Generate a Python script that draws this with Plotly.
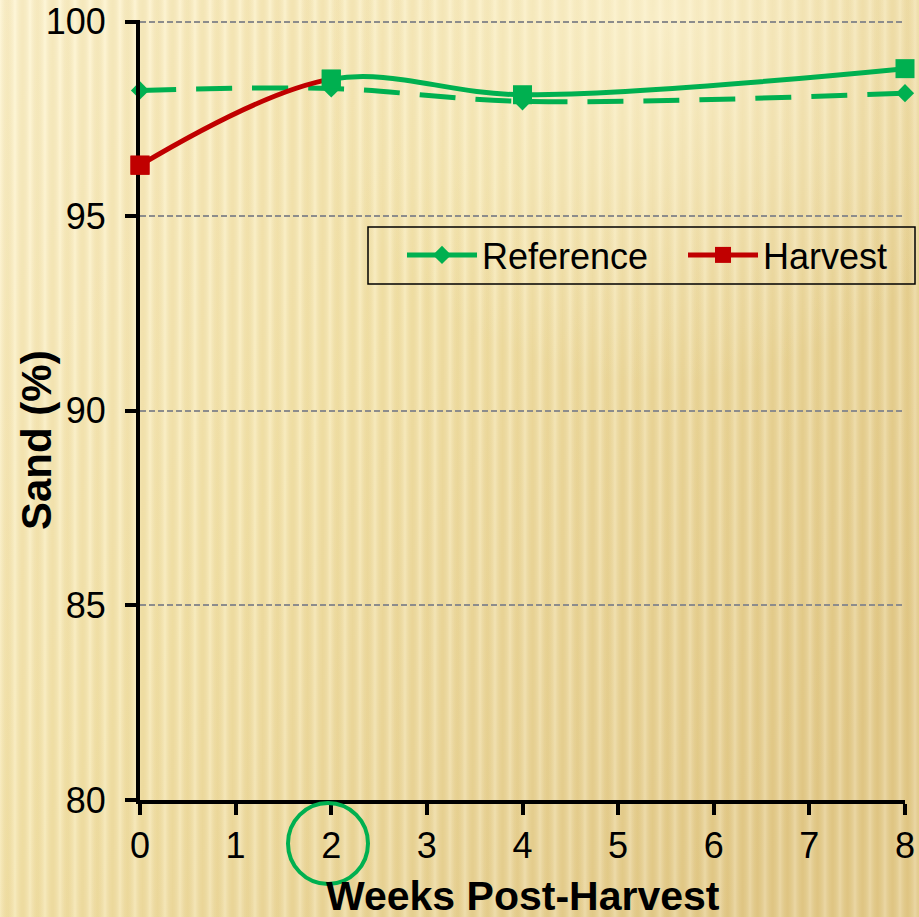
import base64
import plotly.graph_objects as go

# ---- data ----
weeks = [0, 2, 4, 8]
reference = [98.23, 98.28, 97.95, 98.16]
harvest = [96.31, 98.52, 98.12, 98.79]
x_ticks = [0, 1, 2, 3, 4, 5, 6, 7, 8]
y_ticks = [80, 85, 90, 95, 100]
x_range = [0, 8]
y_range = [80, 100.04]
split_week = 2          # Harvest line is red before this week, green after

GREEN = "#00B050"
RED = "#C00000"
FONT = "Liberation Sans, Arial, sans-serif"

W, H = 919, 917
ML, MR, MT, MB = 140, 14, 20, 117
PW, PH = W - ML - MR, H - MT - MB


def px(xp):  # pixel x -> paper x
    return (xp - ML) / PW


def py(yp):  # pixel y -> paper y
    return (H - MB - yp) / PH


# ---- decorative background (svg) ----
svg = f"""<svg xmlns='http://www.w3.org/2000/svg' width='{W}' height='{H}'>
<defs>
<linearGradient id='g' x1='0' y1='0' x2='1' y2='0.7'>
<stop offset='0' stop-color='#FEF4CF'/>
<stop offset='0.45' stop-color='#F5E5AC'/>
<stop offset='1' stop-color='#E4CB8A'/>
</linearGradient>
<linearGradient id='s' x1='0' y1='0' x2='1' y2='0'>
<stop offset='0' stop-color='#FFFFFF' stop-opacity='0.22'/>
<stop offset='0.5' stop-color='#B89440' stop-opacity='0.10'/>
<stop offset='1' stop-color='#FFFFFF' stop-opacity='0.22'/>
</linearGradient>
<pattern id='p' width='15' height='{H}' patternUnits='userSpaceOnUse'>
<rect width='15' height='{H}' fill='url(#s)'/>
</pattern>
<radialGradient id='r' cx='0.72' cy='0.02' r='0.4'>
<stop offset='0' stop-color='#FFF8DE' stop-opacity='0.6'/>
<stop offset='1' stop-color='#FFF8DE' stop-opacity='0'/>
</radialGradient>
</defs>
<rect width='{W}' height='{H}' fill='url(#g)'/>
<rect width='{W}' height='{H}' fill='url(#p)'/>
<rect width='{W}' height='{H}' fill='url(#r)'/>
</svg>"""
bg_uri = "data:image/svg+xml;base64," + base64.b64encode(svg.encode()).decode()

fig = go.Figure()

fig.add_trace(go.Scatter(
    x=weeks, y=reference, name="Reference", mode="lines+markers",
    line=dict(color=GREEN, width=5, dash="36px,20px", shape="spline"),
    marker=dict(symbol="diamond", size=14, color=GREEN),
    cliponaxis=False, showlegend=False,
))
# legend entry for Reference (solid glyph, as in the original legend)
fig.add_trace(go.Scatter(
    x=[None], y=[None], name="Reference", mode="lines+markers",
    line=dict(color=GREEN, width=5),
    marker=dict(symbol="diamond", size=14, color=GREEN),
    legend="legend", hoverinfo="skip",
))
# red part of the Harvest curve (clipped to weeks 0..split)
fig.add_trace(go.Scatter(
    x=weeks, y=harvest, name="Harvest", mode="lines+markers",
    xaxis="x2", yaxis="y2",
    line=dict(color=RED, width=5, shape="spline"),
    marker=dict(symbol="square", size=19, color=[RED] + [GREEN] * (len(weeks) - 1)),
    cliponaxis=False, legend="legend2",
))
# green part of the Harvest curve (clipped to weeks split..8)
fig.add_trace(go.Scatter(
    x=weeks, y=harvest, showlegend=False, mode="lines",
    xaxis="x3", yaxis="y2",
    line=dict(color=GREEN, width=5, shape="spline"),
    hoverinfo="skip",
))
# Harvest markers on top
fig.add_trace(go.Scatter(
    x=weeks, y=harvest, showlegend=False, mode="markers",
    xaxis="x4", yaxis="y2",
    marker=dict(symbol="square", size=19, color=[RED] + [GREEN] * (len(weeks) - 1)),
    cliponaxis=False,
))

frac = (split_week - x_range[0]) / (x_range[1] - x_range[0])
hidden = dict(visible=False, showgrid=False, zeroline=False, fixedrange=True,
              automargin=False)

legend_common = dict(
    orientation="h", xanchor="left", yanchor="middle",
    font=dict(size=36, family=FONT), bgcolor="rgba(0,0,0,0)", borderwidth=0,
    itemwidth=70, itemsizing="trace",
)

fig.update_layout(
    width=W, height=H,
    margin=dict(l=ML, r=MR, t=MT, b=MB, autoexpand=False),
    paper_bgcolor="#F3E2A8",
    plot_bgcolor="rgba(0,0,0,0)",
    font=dict(family=FONT, color="black"),
    xaxis=dict(
        domain=[0, 1], range=x_range, tickvals=x_ticks,
        showline=True, linecolor="black", linewidth=4,
        ticks="outside", ticklen=11, tickwidth=4, tickcolor="black",
        tickfont=dict(size=36, family=FONT), showgrid=False, zeroline=False,
        fixedrange=True, ticklabeloverflow="allow", automargin=False,
    ),
    yaxis=dict(
        domain=[0, 1], range=y_range, tickvals=y_ticks,
        showline=True, linecolor="black", linewidth=4,
        ticks="outside", ticklen=11, tickwidth=4, tickcolor="black",
        tickfont=dict(size=36, family=FONT), ticklabelstandoff=12,
        showgrid=True, gridcolor="#8C8C8C", gridwidth=2, griddash="6px,3px",
        zeroline=False, fixedrange=True, ticklabeloverflow="allow",
        automargin=False,
    ),
    xaxis2=dict(domain=[0, frac], range=[x_range[0], split_week], anchor="y2", **hidden),
    xaxis3=dict(domain=[frac, 1], range=[split_week, x_range[1]], anchor="y2", **hidden),
    xaxis4=dict(domain=[0, 1], range=x_range, anchor="y2", **hidden),
    yaxis2=dict(domain=[0, 1], range=y_range, anchor="x2", **hidden),
    showlegend=True,
    legend=dict(x=px(402), y=py(255), **legend_common),
    legend2=dict(x=px(683), y=py(255), **legend_common),
    images=[dict(
        source=bg_uri, xref="paper", yref="paper",
        x=px(0), y=py(0), sizex=W / PW, sizey=H / PH,
        xanchor="left", yanchor="top", sizing="stretch", layer="below",
    )],
    shapes=[
        dict(type="rect", xref="paper", yref="paper",
             x0=px(368), x1=px(915), y0=py(284), y1=py(227),
             line=dict(color="black", width=1.5), fillcolor="rgba(0,0,0,0)"),
        dict(type="circle", xref="paper", yref="paper",
             x0=px(288), x1=px(368), y0=py(884), y1=py(803),
             line=dict(color=GREEN, width=4)),
    ],
    annotations=[
        dict(text="<b>Sand (%)</b>", textangle=-90, xref="paper", yref="paper",
             x=px(36), y=py(440), xanchor="center", yanchor="middle",
             showarrow=False, font=dict(size=42, family=FONT)),
        dict(text="<b>Weeks Post-Harvest</b>", xref="paper", yref="paper",
             x=0.5, y=py(871), xanchor="center", yanchor="top",
             showarrow=False, font=dict(size=41, family=FONT)),
    ],
)

fig.write_html("out.html")
